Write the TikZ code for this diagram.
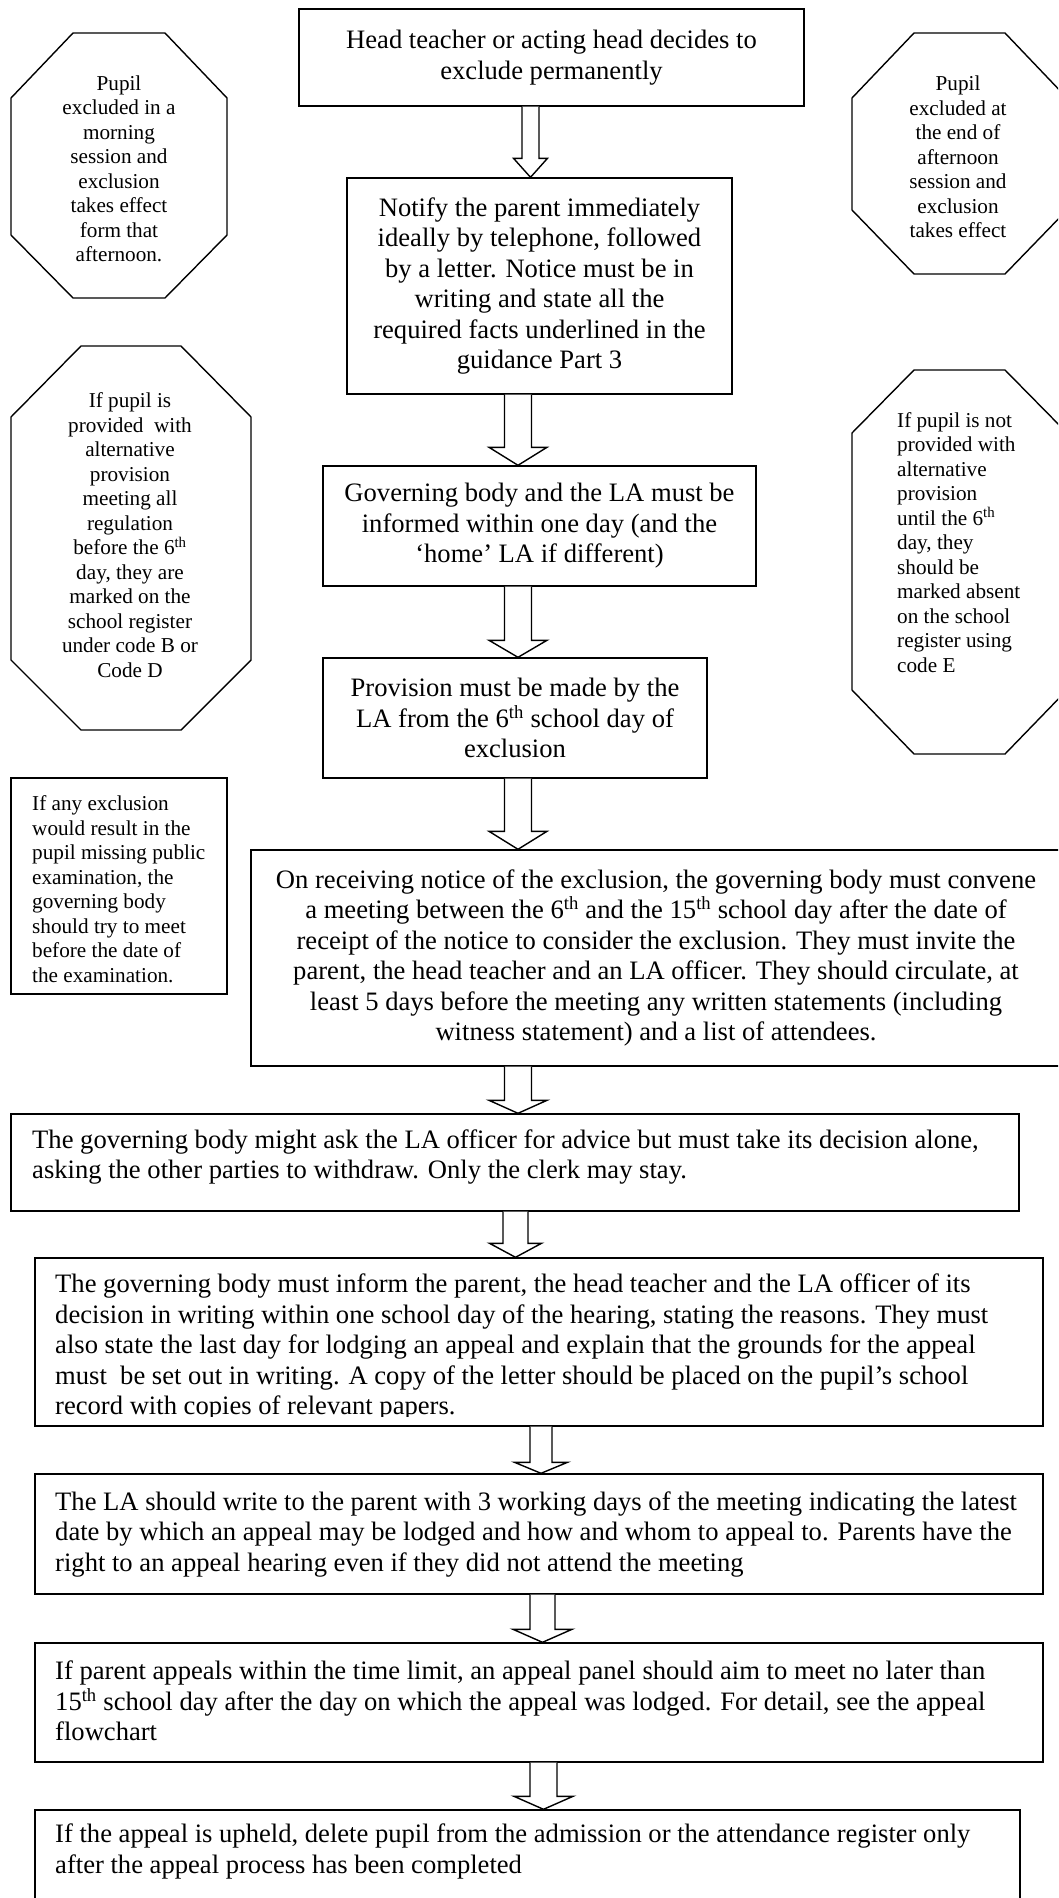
\documentclass[tikz,border=0pt]{standalone}
\usepackage{fontspec}
\setmainfont{Liberation Serif}
\usetikzlibrary{calc}
\tikzset{
  big/.style={font=\fontsize{26.6}{30.5}\selectfont},
  small/.style={font=\fontsize{21.2}{24.5}\selectfont},
  box/.style={draw, line width=1.4pt, inner sep=0pt, big, align=center},
  oct/.style={draw, line width=1.4pt, line join=miter},
  txt/.style={inner sep=0pt, align=left, anchor=west},
  blockarr/.style={draw, line width=1.4pt, fill=white, line join=miter},
}
\newcommand\barrowx[6]{%
  \path[blockarr] let \p1=(#1.south), \p2=(#2.north) in
    (#3pt-#4pt,\y1) -- (#3pt-#4pt,\y2+#6pt) -- (#3pt-#5pt,\y2+#6pt) -- (#3pt,\y2)
    -- (#3pt+#5pt,\y2+#6pt) -- (#3pt+#4pt,\y2+#6pt) -- (#3pt+#4pt,\y1);
}
\begin{document}
\begin{tikzpicture}[x=1pt,y=-1pt]
\clip (0,0) rectangle (1058,1898);
\fill[white] (0,0) rectangle (1058,1898);

% main boxes
\node[box, minimum width=505pt, minimum height=97pt] (b1) at (551.5,57.5)
  {Head teacher or acting head decides to\\exclude permanently};
\node[box, minimum width=385pt, minimum height=216pt] (b2) at (539.5,286)
  {Notify the parent immediately\\ideally by telephone, followed\\by a letter. Notice must be in\\writing and state all the\\required facts underlined in the\\guidance Part 3};
\node[box, minimum width=433pt, minimum height=120pt] (b3) at (539.5,526)
  {Governing body and the LA must be\\informed within one day (and the\\‘home’ LA if different)};
\node[box, minimum width=384pt, minimum height=120pt] (b4) at (515,718)
  {Provision must be made by the\\LA from the 6\textsuperscript{th} school day of\\exclusion};
\node[box, minimum width=810pt, minimum height=216pt] (b5) at (656,958)
  {On receiving notice of the exclusion, the governing body must convene\\a meeting between the 6\textsuperscript{th} and the 15\textsuperscript{th} school day after the date of\\receipt of the notice to consider the exclusion. They must invite the\\parent, the head teacher and an LA officer. They should circulate, at\\least 5 days before the meeting any written statements (including\\witness statement) and a list of attendees.};
\node[box, minimum width=1008pt, minimum height=97pt] (b6) at (515,1162.5) {};
\node[txt, big] (b6t) at (32,1157)
  {The governing body might ask the LA officer for advice but must take its decision alone,\\asking the other parties to withdraw. Only the clerk may stay.};
\node[box, minimum width=1008pt, minimum height=168pt] (b7) at (539,1342) {};
\begin{scope}
  \clip (35,1258) rectangle (1043,1416);
  \node[txt, big] (b7t) at (55,1347)
  {The governing body must inform the parent, the head teacher and the LA officer of its\\decision in writing within one school day of the hearing, stating the reasons. They must\\also state the last day for lodging an appeal and explain that the grounds for the appeal\\must\ \ be set out in writing. A copy of the letter should be placed on the pupil’s school\\record with copies of relevant papers.};
\end{scope}
\node[box, minimum width=1008pt, minimum height=120pt] (b8) at (539,1534) {};
\node[txt, big] (b8t) at (55,1534)
  {The LA should write to the parent with 3 working days of the meeting indicating the latest\\date by which an appeal may be lodged and how and whom to appeal to. Parents have the\\right to an appeal hearing even if they did not attend the meeting};
\node[box, minimum width=1008pt, minimum height=119pt] (b9) at (539,1702.5) {};
\node[txt, big] (b9t) at (55,1701)
  {If parent appeals within the time limit, an appeal panel should aim to meet no later than\\15\textsuperscript{th} school day after the day on which the appeal was lodged. For detail, see the appeal\\flowchart};
\node[box, minimum width=985pt, minimum height=90pt] (b10) at (527.5,1855) {};
\node[txt, big] (b10t) at (55,1851.5)
  {If the appeal is upheld, delete pupil from the admission or the attendance register only\\after the appeal process has been completed};

% side notes
\draw[oct] (73,33) -- (165,33) -- (227,98) -- (227,235) -- (165,298) -- (73,298) -- (11,235) -- (11,98) -- cycle;
\node[small, align=center, inner sep=0pt] (o1) at (119,169)
  {Pupil\\excluded in a\\morning\\session and\\exclusion\\takes effect\\form that\\afternoon.};
\draw[oct] (914,33) -- (1005,33) -- (1067,98) -- (1067,210) -- (1005,274) -- (914,274) -- (852,210) -- (852,98) -- cycle;
\node[small, align=center, inner sep=0pt] (o2) at (958,157)
  {Pupil\\excluded at\\the end of\\afternoon\\session and\\exclusion\\takes effect};
\draw[oct] (81,346) -- (181,346) -- (251,417) -- (251,660) -- (181,730) -- (81,730) -- (11,660) -- (11,417) -- cycle;
\node[small, align=center, inner sep=0pt] (o3) at (130,535)
  {If pupil is\\provided\ \ with\\alternative\\provision\\meeting all\\regulation\\before the 6\textsuperscript{th}\\day, they are\\marked on the\\school register\\under code B or\\Code D};
\draw[oct] (914,370) -- (1005,370) -- (1067,433) -- (1067,690) -- (1005,754) -- (914,754) -- (852,690) -- (852,433) -- cycle;
\node[txt, small] (o4) at (897,542.5)
  {If pupil is not\\provided with\\alternative\\provision\\until the 6\textsuperscript{th}\\day, they\\should be\\marked absent\\on the school\\register using\\code E};
\node[draw, line width=1.4pt, minimum width=216pt, minimum height=216pt] (l1) at (119,886) {};
\node[txt, small] (l1t) at (32,889)
  {If any exclusion\\would result in the\\pupil missing public\\examination, the\\governing body\\should try to meet\\before the date of\\the examination.};

% block arrows
\barrowx{b1}{b2}{530.5}{8.5}{17}{19}
\barrowx{b2}{b3}{518}{13.5}{29}{18}
\barrowx{b3}{b4}{518}{13.5}{29}{17}
\barrowx{b4}{b5}{518}{13.5}{29}{18}
\barrowx{b5}{b6}{518}{13.5}{29}{13}
\barrowx{b6}{b7}{515.5}{12.5}{26}{14}
\barrowx{b7}{b8}{541}{11}{26.5}{11}
\barrowx{b8}{b9}{542.5}{12.5}{29.5}{13}
\barrowx{b9}{b10}{543.5}{13.5}{29.5}{13}
\end{tikzpicture}
\end{document}
